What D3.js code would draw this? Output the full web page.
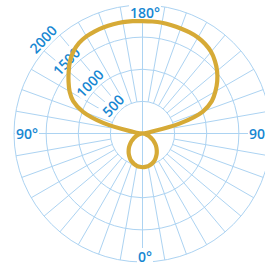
<!DOCTYPE html>
<html>
<head>
<meta charset="utf-8">
<script src="https://cdn.jsdelivr.net/npm/d3@7"></script>
<style>
body { margin: 0; background: #ffffff; }
</style>
</head>
<body>
<script>
let width = 265;
let height = 268;
let cx = 142.5;
let cy = 133.5;

// gamma angles, 0 at the bottom, 180 at the top
let angles = [0, 5, 10, 15, 20, 25, 30, 35, 40, 45, 50, 55, 60, 65, 70, 75, 80, 85, 90,
  95, 100, 105, 110, 115, 120, 125, 130, 135, 140, 145, 150, 155, 160, 165, 170, 175, 180];
let rightValues = [525, 522, 515, 500, 480, 455, 420, 385, 345, 305, 262, 218, 174, 132, 94, 60, 32, 10, 0,
  30, 95, 595, 1000, 1190, 1310, 1420, 1515, 1595, 1660, 1700, 1725, 1735, 1740, 1745, 1750, 1750, 1750];
let leftValues = [525, 520, 510, 495, 470, 445, 410, 375, 335, 295, 250, 210, 165, 125, 90, 55, 30, 10, 0,
  45, 155, 625, 985, 1190, 1310, 1405, 1500, 1595, 1670, 1720, 1745, 1755, 1760, 1760, 1760, 1755, 1750];

let ringValues = [500, 1000, 1500, 2000];
let ringLabels = ["500", "1000", "1500", "2000"];
let spokeAngles = [10, 20, 30, 40, 50, 60, 70, 80, 100, 110, 120, 130, 140, 150, 160, 170];
let axisLabels = ["180°", "0°", "90°", "90°"];

let gridColor = "#acd3f2";
let labelColor = "#1787d2";
let curveColor = "#d6aa36";

let rScale = d3.scaleLinear().domain([0, 2000]).range([0, 128.5]);
let rightAngle = d3.scaleLinear().domain([0, 180]).range([Math.PI, 0]);
let leftAngle = d3.scaleLinear().domain([0, 180]).range([Math.PI, 2 * Math.PI]);

function pt(a, r) {
  return [cx + r * Math.sin(a), cy - r * Math.cos(a)];
}

let svg = d3.select("body").append("svg").attr("width", width).attr("height", height);

svg.append("rect")
  .attr("width", width)
  .attr("height", height)
  .attr("fill", "#ffffff");

let grid = svg.append("g");

grid.selectAll("circle")
  .data(ringValues)
  .join("circle")
  .attr("cx", cx)
  .attr("cy", cy)
  .attr("r", d => rScale(d))
  .attr("fill", "none")
  .attr("stroke", gridColor)
  .attr("stroke-width", 1);

let spokes = [];
spokeAngles.forEach(g => {
  spokes.push(rightAngle(g));
  spokes.push(leftAngle(g));
});

grid.selectAll("line.spoke")
  .data(spokes)
  .join("line")
  .attr("class", "spoke")
  .attr("x1", d => pt(d, rScale(500))[0])
  .attr("y1", d => pt(d, rScale(500))[1])
  .attr("x2", d => pt(d, rScale(2000))[0])
  .attr("y2", d => pt(d, rScale(2000))[1])
  .attr("stroke", gridColor)
  .attr("stroke-width", 1);

// main axes through the centre
let axisEnds = [
  [rightAngle(180), rightAngle(0)],
  [leftAngle(90), rightAngle(90)]
];
grid.selectAll("line.axis")
  .data(axisEnds)
  .join("line")
  .attr("class", "axis")
  .attr("x1", d => pt(d[0], rScale(2000))[0])
  .attr("y1", d => pt(d[0], rScale(2000))[1])
  .attr("x2", d => pt(d[1], rScale(2000))[0])
  .attr("y2", d => pt(d[1], rScale(2000))[1])
  .attr("stroke", gridColor)
  .attr("stroke-width", 1);

function addLabel(g, text, x, y, anchor, rot) {
  let t = g.append("text")
    .attr("x", x)
    .attr("y", y)
    .attr("text-anchor", anchor)
    .attr("font-family", "'Open Sans', sans-serif")
    .attr("font-weight", 600)
    .attr("font-size", 14)
    .attr("fill", labelColor)
    .text(text);
  if (rot) t.attr("transform", `rotate(${rot},${x},${y})`).attr("dy", "0.35em");
  let b = t.node().getBBox();
  g.insert("rect", () => t.node())
    .attr("x", b.x - 1)
    .attr("y", b.y + 1)
    .attr("width", b.width + 2)
    .attr("height", b.height - 2)
    .attr("fill", "#ffffff")
    .attr("transform", rot ? `rotate(${rot},${x},${y})` : null);
  return t;
}

let labels = svg.append("g");

let pTop = pt(rightAngle(180), rScale(2000) - 13);
addLabel(labels, axisLabels[0], pTop[0] + 2.5, pTop[1], "middle");
let pBottom = pt(rightAngle(0), rScale(2000));
addLabel(labels, axisLabels[1], pBottom[0] + 2.5, pBottom[1], "middle");
let pLeft = pt(leftAngle(90), rScale(2000) - 24);
addLabel(labels, axisLabels[2], pLeft[0], pLeft[1] + 5, "end");
let pRight = pt(rightAngle(90), rScale(2000) - 22);
addLabel(labels, axisLabels[3], pRight[0], pRight[1] + 5, "start");

ringValues.forEach((v, i) => {
  let p = pt(leftAngle(133.5), rScale(v) + 8);
  addLabel(labels, ringLabels[i], p[0], p[1], "middle", -46.5);
});

// one closed curve: left half from the top down, right half from the bottom up
let points = [];
for (let i = angles.length - 2; i >= 1; i--) {
  points.push([leftAngle(angles[i]), rScale(leftValues[i])]);
}
for (let i = 0; i < angles.length; i++) {
  points.push([rightAngle(angles[i]), rScale(rightValues[i])]);
}

let line = d3.lineRadial()
  .angle(d => d[0])
  .radius(d => d[1])
  .curve(d3.curveCatmullRomClosed.alpha(0.5));

svg.append("path")
  .attr("transform", `translate(${cx},${cy})`)
  .attr("d", line(points))
  .attr("fill", "none")
  .attr("stroke", curveColor)
  .attr("stroke-width", 4.2)
  .attr("stroke-linejoin", "round");
</script>
</body>
</html>
